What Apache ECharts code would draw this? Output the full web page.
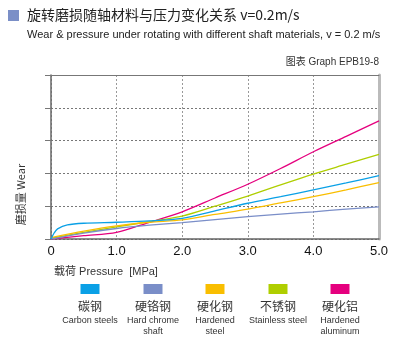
<!DOCTYPE html>
<html><head><meta charset="utf-8">
<script src="https://cdn.jsdelivr.net/npm/echarts@6/dist/echarts.min.js"></script>
<style>html,body{margin:0;padding:0;background:#fff}#c{width:400px;height:360px}</style>
</head><body><div id="c"></div>
<script>
// Data
const xTicks = [0, 1, 2, 3, 4, 5];
const namesCN = ['碳钢', '硬铬钢', '硬化钢', '不锈钢', '硬化铝'];
const namesEN = ['Carbon steels', 'Hard chrome\nshaft', 'Hardened\nsteel', 'Stainless steel', 'Hardened\naluminum'];
const colors = ['#0aa0e6', '#7a8ec8', '#f9be00', '#afce00', '#e5007e'];
const carbon = [[0,0],[0.05,0.19],[0.1,0.31],[0.25,0.43],[0.5,0.48],[1.0,0.51],[1.5,0.55],[2.0,0.63],[2.5,0.86],[3.0,1.09],[3.5,1.29],[4.0,1.5],[4.5,1.71],[5.0,1.93]];
const chrome = [[0,0],[0.5,0.18],[1.0,0.32],[1.5,0.42],[2.0,0.5],[2.5,0.59],[3.0,0.68],[3.5,0.76],[4.0,0.83],[4.5,0.91],[5.0,0.98]];
const hardened = [[0,0.04],[0.5,0.24],[1.0,0.4],[1.5,0.51],[2.0,0.58],[2.5,0.75],[3.0,0.91],[3.5,1.1],[4.0,1.29],[4.5,1.5],[5.0,1.72]];
const stainless = [[0,0.02],[0.5,0.2],[1.0,0.37],[1.5,0.53],[2.0,0.7],[2.5,1.0],[3.0,1.31],[3.5,1.65],[4.0,1.98],[4.5,2.28],[5.0,2.58]];
const aluminum = [[0,0],[0.5,0.1],[1.0,0.2],[1.5,0.51],[2.0,0.83],[2.5,1.25],[3.0,1.67],[3.5,2.15],[4.0,2.66],[4.5,3.13],[5.0,3.6]];
const seriesData = [carbon, chrome, hardened, stainless, aluminum];

const chart = echarts.init(document.getElementById('c'));
const legendX = [90, 153, 215, 278, 340];
const graphics = [
  {type:'rect', shape:{x:8,y:10,width:11,height:11}, style:{fill:'#7b8fc7'}},
  {type:'text', left:27, top:8, style:{text:'旋转磨损随轴材料与压力变化关系 v=0.2m/s', font:'14px "Noto Sans CJK SC", sans-serif', fill:'#222'}},
  {type:'text', left:27, top:29, style:{text:'Wear & pressure under rotating with different shaft materials, v = 0.2 m/s', font:'11px "Liberation Sans", Arial, sans-serif', fill:'#222'}},
  {type:'text', right:21, top:57, style:{text:'图表 Graph EPB19-8', font:'10px "Liberation Sans", "Noto Sans CJK SC", sans-serif', fill:'#333'}},
  {type:'text', left:54, top:266, style:{text:'载荷 Pressure  [MPa]', font:'11px "Liberation Sans", "Noto Sans CJK SC", sans-serif', fill:'#333'}}
];
namesCN.forEach((n, i) => {
  graphics.push({type:'rect', shape:{x:legendX[i]-9.5, y:284, width:19, height:10}, style:{fill:colors[i]}});
  graphics.push({type:'text', x:legendX[i], y:300, style:{text:n, align:'center', font:'12px "Noto Sans CJK SC", sans-serif', fill:'#333'}});
  graphics.push({type:'text', x:legendX[i], y:315, style:{text:namesEN[i], align:'center', font:'9px "Liberation Sans", Arial, sans-serif', fill:'#333', lineHeight:11}});
});

chart.setOption({
  animation:false,
  grid:{left:51, right:21, top:75, bottom:121},
  graphic: graphics,
  xAxis:[{
    type:'value', min:0, max:5, interval:1,
    axisLine:{onZero:false, lineStyle:{color:'#666', width:1.5}},
    axisTick:{show:false},
    axisLabel:{color:'#111', fontSize:13, fontFamily:'"Liberation Sans", Arial, sans-serif', margin:6,
      formatter:v => xTicks.indexOf(v) < 0 ? '' : (v === 0 ? '0' : v.toFixed(1))},
    splitLine:{show:true, lineStyle:{color:'#999', type:[2,2], width:1}}
  },{
    type:'value', position:'top', min:0, max:5,
    axisLine:{show:true, onZero:false, lineStyle:{color:'#777', width:1}},
    axisTick:{show:false}, axisLabel:{show:false}, splitLine:{show:false}
  }],
  yAxis:[{
    type:'value', min:0, max:5, interval:1,
    name:'磨损量 Wear', nameLocation:'middle', nameGap:25, nameRotate:90,
    nameTextStyle:{color:'#333', fontSize:11, fontFamily:'"Noto Sans CJK SC", sans-serif', padding:[0,0,0,-75]},
    axisLine:{show:true, onZero:false, lineStyle:{color:'#666', width:1.5}},
    axisTick:{show:true, inside:false, length:6, lineStyle:{color:'#777'}},
    axisLabel:{show:false},
    splitLine:{show:true, lineStyle:{color:'#777', type:[2,2], width:1}}
  },{
    type:'value', position:'right', min:0, max:5,
    axisLine:{show:true, onZero:false, lineStyle:{color:'#bbb', width:3}},
    axisTick:{show:false}, axisLabel:{show:false}, splitLine:{show:false}
  }],
  series: seriesData.map((d, i) => ({
    type:'line', name:namesCN[i], data:d, smooth:0.3, symbol:'none',
    lineStyle:{color:colors[i], width:1.3}, z: 5 - i
  }))
});
</script></body></html>
